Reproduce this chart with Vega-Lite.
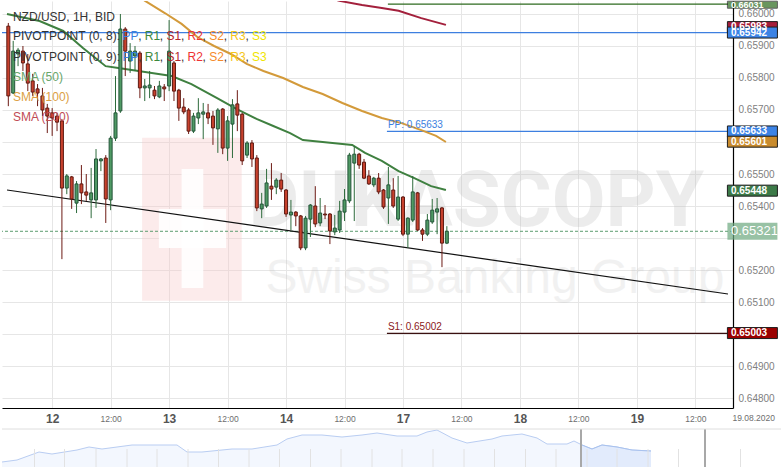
{
"$schema": "https://vega.github.io/schema/vega-lite/v6.json",
"padding": 0,
"background": "white",
"spacing": 4,
"config": {"font": "Liberation Sans", "view": {"stroke": null}, "axis": {"labelOverlap": false, "labelFlush": false}},
"datasets": {
"candles": [
{"t":-9,"o":0.65962,"h":0.65972,"l":0.65712,"c":0.65744},
{"t":-8,"o":0.65753,"h":0.65916,"l":0.6575,"c":0.65884},
{"t":-7,"o":0.65875,"h":0.65894,"l":0.65837,"c":0.65887},
{"t":-6,"o":0.65884,"h":0.659,"l":0.65822,"c":0.65847},
{"t":-5,"o":0.65844,"h":0.65875,"l":0.65759,"c":0.65784},
{"t":-4,"o":0.65791,"h":0.65813,"l":0.65744,"c":0.65756},
{"t":-3,"o":0.65766,"h":0.65781,"l":0.65712,"c":0.65753},
{"t":-2,"o":0.65744,"h":0.65769,"l":0.65681,"c":0.657},
{"t":-1,"o":0.65706,"h":0.65719,"l":0.65628,"c":0.65681},
{"t":0,"o":0.65691,"h":0.65706,"l":0.65619,"c":0.65675},
{"t":1,"o":0.65681,"h":0.65691,"l":0.65634,"c":0.65662},
{"t":2,"o":0.65666,"h":0.65672,"l":0.65234,"c":0.65456},
{"t":3,"o":0.65456,"h":0.655,"l":0.65437,"c":0.65494},
{"t":4,"o":0.65491,"h":0.65494,"l":0.65391,"c":0.65422},
{"t":5,"o":0.65409,"h":0.65478,"l":0.65378,"c":0.65469},
{"t":6,"o":0.65469,"h":0.65528,"l":0.65406,"c":0.65441},
{"t":7,"o":0.65444,"h":0.655,"l":0.65416,"c":0.65434},
{"t":8,"o":0.65419,"h":0.65519,"l":0.65362,"c":0.65441},
{"t":9,"o":0.65419,"h":0.65578,"l":0.65394,"c":0.65547},
{"t":10,"o":0.65541,"h":0.6555,"l":0.65509,"c":0.65547},
{"t":11,"o":0.6555,"h":0.65559,"l":0.65347,"c":0.65422},
{"t":12,"o":0.65419,"h":0.65619,"l":0.65387,"c":0.65612},
{"t":13,"o":0.65612,"h":0.65806,"l":0.65603,"c":0.65691},
{"t":14,"o":0.65697,"h":0.66,"l":0.65691,"c":0.65953},
{"t":15,"o":0.65953,"h":0.65959,"l":0.65806,"c":0.65884},
{"t":16,"o":0.65853,"h":0.65909,"l":0.65816,"c":0.65884},
{"t":17,"o":0.65869,"h":0.659,"l":0.65822,"c":0.65884},
{"t":18,"o":0.65878,"h":0.65884,"l":0.65737,"c":0.65769},
{"t":19,"o":0.65769,"h":0.65797,"l":0.65728,"c":0.65775},
{"t":20,"o":0.65769,"h":0.65822,"l":0.65737,"c":0.65778},
{"t":21,"o":0.65762,"h":0.65775,"l":0.65734,"c":0.65744},
{"t":22,"o":0.65741,"h":0.65791,"l":0.65737,"c":0.65775},
{"t":23,"o":0.65772,"h":0.65781,"l":0.65728,"c":0.65766},
{"t":24,"o":0.65775,"h":0.65981,"l":0.65759,"c":0.65884},
{"t":25,"o":0.65847,"h":0.65853,"l":0.65728,"c":0.65759},
{"t":26,"o":0.65762,"h":0.65766,"l":0.65666,"c":0.65706},
{"t":27,"o":0.65709,"h":0.65737,"l":0.65687,"c":0.65694},
{"t":28,"o":0.657,"h":0.65706,"l":0.65625,"c":0.65634},
{"t":29,"o":0.65634,"h":0.65691,"l":0.65628,"c":0.65681},
{"t":30,"o":0.65675,"h":0.65737,"l":0.65656,"c":0.65691},
{"t":31,"o":0.65687,"h":0.65722,"l":0.65609,"c":0.65694},
{"t":32,"o":0.65691,"h":0.65719,"l":0.65656,"c":0.65675},
{"t":33,"o":0.65681,"h":0.65697,"l":0.65591,"c":0.65644},
{"t":34,"o":0.65641,"h":0.65706,"l":0.65566,"c":0.657},
{"t":35,"o":0.65703,"h":0.65706,"l":0.65562,"c":0.65581},
{"t":36,"o":0.65581,"h":0.65681,"l":0.65541,"c":0.65666},
{"t":37,"o":0.65656,"h":0.65734,"l":0.6555,"c":0.65716},
{"t":38,"o":0.65719,"h":0.65762,"l":0.65634,"c":0.65684},
{"t":39,"o":0.65687,"h":0.65691,"l":0.65528,"c":0.65541},
{"t":40,"o":0.65559,"h":0.65603,"l":0.6555,"c":0.65597},
{"t":41,"o":0.65597,"h":0.65606,"l":0.65522,"c":0.65547},
{"t":42,"o":0.6555,"h":0.65559,"l":0.65384,"c":0.65394},
{"t":43,"o":0.65391,"h":0.65441,"l":0.65362,"c":0.65406},
{"t":44,"o":0.654,"h":0.65516,"l":0.65394,"c":0.65472},
{"t":45,"o":0.65462,"h":0.65534,"l":0.65419,"c":0.65453},
{"t":46,"o":0.65459,"h":0.65487,"l":0.65437,"c":0.65481},
{"t":47,"o":0.65481,"h":0.65503,"l":0.65444,"c":0.65453},
{"t":48,"o":0.6545,"h":0.65453,"l":0.65366,"c":0.65375},
{"t":49,"o":0.65372,"h":0.65419,"l":0.65325,"c":0.65381},
{"t":50,"o":0.65381,"h":0.65384,"l":0.65337,"c":0.65369},
{"t":51,"o":0.65369,"h":0.65372,"l":0.65262,"c":0.65269},
{"t":52,"o":0.65269,"h":0.65369,"l":0.65262,"c":0.65362},
{"t":53,"o":0.65359,"h":0.65406,"l":0.65303,"c":0.65403},
{"t":54,"o":0.654,"h":0.65462,"l":0.65334,"c":0.65344},
{"t":55,"o":0.65347,"h":0.65425,"l":0.65337,"c":0.65378},
{"t":56,"o":0.65375,"h":0.65403,"l":0.65359,"c":0.65372},
{"t":57,"o":0.65375,"h":0.65378,"l":0.65281,"c":0.65322},
{"t":58,"o":0.65319,"h":0.65372,"l":0.65309,"c":0.65331},
{"t":59,"o":0.65325,"h":0.65416,"l":0.65316,"c":0.65384},
{"t":60,"o":0.65381,"h":0.65453,"l":0.65353,"c":0.65419},
{"t":61,"o":0.65416,"h":0.65566,"l":0.65409,"c":0.65559},
{"t":62,"o":0.65534,"h":0.65587,"l":0.65353,"c":0.65562},
{"t":63,"o":0.65562,"h":0.65566,"l":0.65516,"c":0.65528},
{"t":64,"o":0.65537,"h":0.65547,"l":0.65484,"c":0.65487},
{"t":65,"o":0.65494,"h":0.65512,"l":0.65466,"c":0.65469},
{"t":66,"o":0.65466,"h":0.65491,"l":0.65459,"c":0.65487},
{"t":67,"o":0.65487,"h":0.65503,"l":0.65437,"c":0.65444},
{"t":68,"o":0.6545,"h":0.65453,"l":0.65391,"c":0.65397},
{"t":69,"o":0.65425,"h":0.65522,"l":0.65344,"c":0.65466},
{"t":70,"o":0.6545,"h":0.65487,"l":0.65394,"c":0.654},
{"t":71,"o":0.65359,"h":0.65494,"l":0.65353,"c":0.65428},
{"t":72,"o":0.65428,"h":0.65431,"l":0.65306,"c":0.65312},
{"t":73,"o":0.65312,"h":0.65365,"l":0.65269,"c":0.65362},
{"t":74,"o":0.65356,"h":0.65494,"l":0.6535,"c":0.65444},
{"t":75,"o":0.65441,"h":0.65444,"l":0.65322,"c":0.65325},
{"t":76,"o":0.65325,"h":0.65331,"l":0.65291,"c":0.65312},
{"t":77,"o":0.65312,"h":0.65375,"l":0.65306,"c":0.65356},
{"t":78,"o":0.6535,"h":0.65422,"l":0.65344,"c":0.65387},
{"t":79,"o":0.65381,"h":0.65425,"l":0.65312,"c":0.65391},
{"t":80,"o":0.65394,"h":0.65397,"l":0.65209,"c":0.65284},
{"t":81,"o":0.65284,"h":0.65337,"l":0.65281,"c":0.65321}
],
"sma": [
{"s":"SMA50","t":-9.27,"v":0.66},{"s":"SMA50","t":-2.59,"v":0.65978},{"s":"SMA50","t":2.27,"v":0.65947},{"s":"SMA50","t":6.32,"v":0.65894},{"s":"SMA50","t":10.97,"v":0.65837},{"s":"SMA50","t":13.6,"v":0.65831},{"s":"SMA50","t":19.07,"v":0.65819},{"s":"SMA50","t":24.53,"v":0.65806},{"s":"SMA50","t":28.58,"v":0.65781},{"s":"SMA50","t":33.85,"v":0.65737},{"s":"SMA50","t":37.89,"v":0.65703},{"s":"SMA50","t":41.94,"v":0.65672},{"s":"SMA50","t":45.38,"v":0.6565},{"s":"SMA50","t":48.83,"v":0.65628},{"s":"SMA50","t":51.46,"v":0.65606},{"s":"SMA50","t":55.51,"v":0.656},{"s":"SMA50","t":59.56,"v":0.65594},{"s":"SMA50","t":61.58,"v":0.65591},{"s":"SMA50","t":64.21,"v":0.65566},{"s":"SMA50","t":67.65,"v":0.65541},{"s":"SMA50","t":71.09,"v":0.65509},{"s":"SMA50","t":74.33,"v":0.65487},{"s":"SMA50","t":77.77,"v":0.65462},{"s":"SMA50","t":80.81,"v":0.6545},
{"s":"SMA100","t":16.64,"v":0.66066},{"s":"SMA100","t":19.07,"v":0.66041},{"s":"SMA100","t":23.12,"v":0.66003},{"s":"SMA100","t":26.56,"v":0.65969},{"s":"SMA100","t":29.8,"v":0.65928},{"s":"SMA100","t":33.24,"v":0.659},{"s":"SMA100","t":36.68,"v":0.65875},{"s":"SMA100","t":39.92,"v":0.65844},{"s":"SMA100","t":43.36,"v":0.65822},{"s":"SMA100","t":47.41,"v":0.658},{"s":"SMA100","t":51.46,"v":0.65772},{"s":"SMA100","t":55.51,"v":0.6575},{"s":"SMA100","t":59.56,"v":0.65722},{"s":"SMA100","t":63.6,"v":0.65697},{"s":"SMA100","t":67.65,"v":0.65675},{"s":"SMA100","t":71.7,"v":0.65659},{"s":"SMA100","t":75.75,"v":0.65637},{"s":"SMA100","t":78.79,"v":0.65619},{"s":"SMA100","t":80.81,"v":0.656},
{"s":"SMA200","t":56.52,"v":0.66053},{"s":"SMA200","t":58.95,"v":0.66041},{"s":"SMA200","t":63.6,"v":0.66028},{"s":"SMA200","t":67.65,"v":0.66019},{"s":"SMA200","t":71.09,"v":0.6601},{"s":"SMA200","t":75.75,"v":0.65987},{"s":"SMA200","t":80.81,"v":0.65966}
],
"legend": [
{"t":-8.06,"v":0.65992,"text":"NZD/USD, 1H, BID","k":"base"},
{"t":-8.06,"v":0.6593,"text":"PIVOTPOINT (0, 8):","k":"base"},
{"t":14.41,"v":0.6593,"text":"PP","k":"PP"},{"t":17.65,"v":0.6593,"text":",","k":"base"},
{"t":19.01,"v":0.6593,"text":"R1","k":"R1"},{"t":22.1,"v":0.6593,"text":",","k":"base"},
{"t":23.46,"v":0.6593,"text":"S1","k":"S1"},{"t":26.44,"v":0.6593,"text":",","k":"base"},
{"t":27.77,"v":0.6593,"text":"R2","k":"R2"},{"t":30.87,"v":0.6593,"text":",","k":"base"},
{"t":32.23,"v":0.6593,"text":"S2","k":"S2"},{"t":35.2,"v":0.6593,"text":",","k":"base"},
{"t":36.56,"v":0.6593,"text":"R3","k":"R3"},{"t":39.66,"v":0.6593,"text":",","k":"base"},
{"t":41.01,"v":0.6593,"text":"S3","k":"S3"},
{"t":-8.06,"v":0.65867,"text":"PIVOTPOINT (0, 9):","k":"base"},
{"t":14.41,"v":0.65867,"text":"PP","k":"PP"},{"t":17.65,"v":0.65867,"text":",","k":"base"},
{"t":19.01,"v":0.65867,"text":"R1","k":"R1"},{"t":22.1,"v":0.65867,"text":",","k":"base"},
{"t":23.46,"v":0.65867,"text":"S1","k":"S1"},{"t":26.44,"v":0.65867,"text":",","k":"base"},
{"t":27.77,"v":0.65867,"text":"R2","k":"R2"},{"t":30.87,"v":0.65867,"text":",","k":"base"},
{"t":32.23,"v":0.65867,"text":"S2","k":"S2"},{"t":35.2,"v":0.65867,"text":",","k":"base"},
{"t":36.56,"v":0.65867,"text":"R3","k":"R3"},{"t":39.66,"v":0.65867,"text":",","k":"base"},
{"t":41.01,"v":0.65867,"text":"S3","k":"S3"},
{"t":-8.06,"v":0.65804,"text":"SMA (50)","k":"SMA50"},
{"t":-8.06,"v":0.65741,"text":"SMA (100)","k":"SMA100"},
{"t":-8.06,"v":0.65679,"text":"SMA (200)","k":"SMA200"}
],
"levels": [
{"k":"R1","v":0.66031,"t":68.9,"t2":138.7},
{"k":"PP","v":0.65633,"t":68.7,"t2":138.7},
{"k":"S1","v":0.65002,"t":68.7,"t2":138.7}
],
"leveltext": [
{"k":"PP","v":0.65633,"t":68.9,"text":"PP: 0.65633"},
{"k":"S1","v":0.65002,"t":68.9,"text":"S1: 0.65002"},
{"k":"R1","v":0.66031,"t":68.9,"text":"R1: 0.66030"}
],
"boxes": [
{"k":"SMA200","v":0.65959,"text":"0.65983"},
{"k":"PP8","v":0.65942,"text":"0.65942"},
{"k":"PP9","v":0.65633,"text":"0.65633"},
{"k":"SMA100","v":0.65601,"text":"0.65601"},
{"k":"SMA50","v":0.65448,"text":"0.65448"},
{"k":"S1","v":0.65003,"text":"0.65003"}
],
"wmrect": [
{"k":"logo","t":18.46,"t2":38.9,"v":0.65613,"v2":0.65104},
{"k":"cross","t":26.56,"t2":31.01,"v":0.65516,"v2":0.65144},
{"k":"cross","t":21.9,"t2":35.7,"v":0.65391,"v2":0.65269}
],
"nav": [
{"nx":0,"p":0.5875},{"nx":1.5,"p":0.5925},{"nx":3.7,"p":0.6125},{"nx":5.0,"p":0.6075},{"nx":7.5,"p":0.6175},{"nx":8.7,"p":0.625},{"nx":10.0,"p":0.62},{"nx":13.0,"p":0.63},{"nx":15.0,"p":0.63},{"nx":17.5,"p":0.63},{"nx":18.5,"p":0.6125},{"nx":20.0,"p":0.6125},{"nx":23.0,"p":0.62},{"nx":25.0,"p":0.62},{"nx":27.5,"p":0.63},{"nx":28.5,"p":0.645},{"nx":30.0,"p":0.655},{"nx":32.0,"p":0.655},{"nx":34.0,"p":0.65},{"nx":36.0,"p":0.655},{"nx":37.5,"p":0.66},{"nx":39.5,"p":0.6525},{"nx":41.5,"p":0.6525},{"nx":42.5,"p":0.6625},{"nx":43.5,"p":0.6675},{"nx":45.0,"p":0.6475},{"nx":46.5,"p":0.635},{"nx":49.0,"p":0.645},{"nx":50.0,"p":0.6525},{"nx":52.0,"p":0.6575},{"nx":53.5,"p":0.6475},{"nx":54.5,"p":0.6325},{"nx":56.5,"p":0.6325},{"nx":57.2,"p":0.64},{"nx":58.0,"p":0.63},{"nx":59.0,"p":0.62},{"nx":60.0,"p":0.63},{"nx":61.5,"p":0.625},{"nx":63.0,"p":0.6175},{"nx":64.9,"p":0.615}
],
"navticks": [
{"nx":3.25},{"nx":6.25},{"nx":9.4},{"nx":12.5},{"nx":15.5},{"nx":18.6},{"nx":21.65},{"nx":24.7},{"nx":27.75},{"nx":30.85},{"nx":33.9},{"nx":37.0},{"nx":40.0},{"nx":43.1},{"nx":46.2},{"nx":49.25},{"nx":52.35},{"nx":55.4},{"nx":58.5},{"nx":61.5},{"nx":64.6},{"nx":67.65},{"nx":73.85}
]
},
"vconcat": [
{
"width": 731,
"height": 407,
"resolve": {"scale": {"color": "independent", "stroke": "independent"}},
"layer": [
{
"data": {"name": "wmrect"},
"transform": [{"filter": "datum.k === 'logo'"}],
"mark": {"type": "rect", "color": "#f5c6c6", "opacity": 0.35, "clip": true},
"encoding": {
"x": {"field": "t", "type": "quantitative", "scale": {"domain": [-9.27, 138.7], "nice": false, "zero": false},
"axis": {"orient": "bottom", "title": null, "values": [0,12,24,36,48,60,72,84,96,108,120,132],
"labelExpr": "datum.value % 24 === 0 ? ['12','13','14','17','18','19'][datum.value / 24] : '12:00'",
"labelFontSize": {"condition": {"test": "datum.value % 24 === 0", "value": 12}, "value": 8.5},
"labelFontWeight": {"condition": {"test": "datum.value % 24 === 0", "value": "bold"}, "value": "normal"},
"labelColor": {"condition": {"test": "datum.value % 24 === 0", "value": "#555555"}, "value": "#6e6e6e"},
"labelPadding": 10, "labelBaseline": "middle", "labelFlush": false, "labelOverlap": false,
"ticks": false, "tickSize": 0, "domainColor": "#000000", "domainWidth": 1.2, "grid": true, "gridColor": "#e6e6e6"}},
"x2": {"field": "t2"},
"y": {"field": "v", "type": "quantitative", "scale": {"domain": [0.647688, 0.660406], "nice": false, "zero": false},
"axis": {"orient": "right", "title": null, "values": [0.648,0.649,0.65,0.651,0.652,0.653,0.654,0.655,0.656,0.657,0.658,0.659,0.66], "labelExpr": "(abs(datum.value - 0.656) < 0.00001 || abs(datum.value - 0.653) < 0.00001 || abs(datum.value - 0.65) < 0.00001) ? '' : format(datum.value, '.5f')", "labelFontSize": 10, "labelColor": "#808080", "labelPadding": 5, "labelFlush": false, "labelOverlap": false, "ticks": false, "tickSize": 0, "domainColor": "#000000", "domainWidth": 1.2, "grid": true, "gridColor": "#e6e6e6"}},
"y2": {"field": "v2"}
}
},
{
"data": {"name": "wmrect"},
"transform": [{"filter": "datum.k === 'cross'"}],
"mark": {"type": "rect", "color": "#ffffff", "opacity": 0.9, "clip": true},
"encoding": {
"x": {"field": "t", "type": "quantitative", "scale": {"domain": [-9.27, 138.7], "nice": false, "zero": false}},
"x2": {"field": "t2"},
"y": {"field": "v", "type": "quantitative", "scale": {"domain": [0.647688, 0.660406], "nice": false, "zero": false},
"axis": {"orient": "right", "title": null, "values": [0.648,0.649,0.65,0.651,0.652,0.653,0.654,0.655,0.656,0.657,0.658,0.659,0.66], "labelExpr": "(abs(datum.value - 0.656) < 0.00001 || abs(datum.value - 0.653) < 0.00001 || abs(datum.value - 0.65) < 0.00001) ? '' : format(datum.value, '.5f')", "labelFontSize": 10, "labelColor": "#808080", "labelPadding": 5, "labelFlush": false, "labelOverlap": false, "ticks": false, "tickSize": 0, "domainColor": "#000000", "domainWidth": 1.2, "grid": true, "gridColor": "#e6e6e6"}},
"y2": {"field": "v2"}
}
},
{
"data": {"values": [{"t": 40.3, "v": 0.65337, "text": "DUKASCOPY"}]},
"mark": {"type": "text", "align": "left", "baseline": "alphabetic", "fontSize": 78, "fontWeight": "bold", "font": "Roboto", "color": "#bdbdbd", "opacity": 0.28, "clip": true},
"encoding": {
"x": {"field": "t", "type": "quantitative", "scale": {"domain": [-9.27, 138.7], "nice": false, "zero": false}},
"y": {"field": "v", "type": "quantitative", "scale": {"domain": [0.647688, 0.660406], "nice": false, "zero": false},
"axis": {"orient": "right", "title": null, "values": [0.648,0.649,0.65,0.651,0.652,0.653,0.654,0.655,0.656,0.657,0.658,0.659,0.66], "labelExpr": "(abs(datum.value - 0.656) < 0.00001 || abs(datum.value - 0.653) < 0.00001 || abs(datum.value - 0.65) < 0.00001) ? '' : format(datum.value, '.5f')", "labelFontSize": 10, "labelColor": "#808080", "labelPadding": 5, "labelFlush": false, "labelOverlap": false, "ticks": false, "tickSize": 0, "domainColor": "#000000", "domainWidth": 1.2, "grid": true, "gridColor": "#e6e6e6"}},
"text": {"field": "text"}
}
},
{
"data": {"values": [{"t": 43.77, "v": 0.65128, "text": "Swiss Banking Group"}]},
"mark": {"type": "text", "align": "left", "baseline": "alphabetic", "fontSize": 48, "font": "Liberation Sans", "color": "#bdbdbd", "opacity": 0.2, "clip": true},
"encoding": {
"x": {"field": "t", "type": "quantitative", "scale": {"domain": [-9.27, 138.7], "nice": false, "zero": false}},
"y": {"field": "v", "type": "quantitative", "scale": {"domain": [0.647688, 0.660406], "nice": false, "zero": false},
"axis": {"orient": "right", "title": null, "values": [0.648,0.649,0.65,0.651,0.652,0.653,0.654,0.655,0.656,0.657,0.658,0.659,0.66], "labelExpr": "(abs(datum.value - 0.656) < 0.00001 || abs(datum.value - 0.653) < 0.00001 || abs(datum.value - 0.65) < 0.00001) ? '' : format(datum.value, '.5f')", "labelFontSize": 10, "labelColor": "#808080", "labelPadding": 5, "labelFlush": false, "labelOverlap": false, "ticks": false, "tickSize": 0, "domainColor": "#000000", "domainWidth": 1.2, "grid": true, "gridColor": "#e6e6e6"}},
"text": {"field": "text"}
}
},
{
"data": {"values": [{"v": 0.65942}]},
"mark": {"type": "rule", "color": "#3d7fe0", "strokeWidth": 1.3, "clip": true},
"encoding": {
"y": {"field": "v", "type": "quantitative", "scale": {"domain": [0.647688, 0.660406], "nice": false, "zero": false},
"axis": {"orient": "right", "title": null, "values": [0.648,0.649,0.65,0.651,0.652,0.653,0.654,0.655,0.656,0.657,0.658,0.659,0.66], "labelExpr": "(abs(datum.value - 0.656) < 0.00001 || abs(datum.value - 0.653) < 0.00001 || abs(datum.value - 0.65) < 0.00001) ? '' : format(datum.value, '.5f')", "labelFontSize": 10, "labelColor": "#808080", "labelPadding": 5, "labelFlush": false, "labelOverlap": false, "ticks": false, "tickSize": 0, "domainColor": "#000000", "domainWidth": 1.2, "grid": true, "gridColor": "#e6e6e6"}}
}
},
{
"data": {"values": [{"v": 0.65321}]},
"mark": {"type": "rule", "color": "#5c9c70", "strokeWidth": 1, "strokeDash": [3, 2], "clip": true},
"encoding": {
"y": {"field": "v", "type": "quantitative", "scale": {"domain": [0.647688, 0.660406], "nice": false, "zero": false},
"axis": {"orient": "right", "title": null, "values": [0.648,0.649,0.65,0.651,0.652,0.653,0.654,0.655,0.656,0.657,0.658,0.659,0.66], "labelExpr": "(abs(datum.value - 0.656) < 0.00001 || abs(datum.value - 0.653) < 0.00001 || abs(datum.value - 0.65) < 0.00001) ? '' : format(datum.value, '.5f')", "labelFontSize": 10, "labelColor": "#808080", "labelPadding": 5, "labelFlush": false, "labelOverlap": false, "ticks": false, "tickSize": 0, "domainColor": "#000000", "domainWidth": 1.2, "grid": true, "gridColor": "#e6e6e6"}}
}
},
{
"data": {"name": "levels"},
"mark": {"type": "rule", "strokeWidth": 1.3, "clip": true},
"encoding": {
"x": {"field": "t", "type": "quantitative", "scale": {"domain": [-9.27, 138.7], "nice": false, "zero": false}},
"x2": {"field": "t2"},
"y": {"field": "v", "type": "quantitative", "scale": {"domain": [0.647688, 0.660406], "nice": false, "zero": false},
"axis": {"orient": "right", "title": null, "values": [0.648,0.649,0.65,0.651,0.652,0.653,0.654,0.655,0.656,0.657,0.658,0.659,0.66], "labelExpr": "(abs(datum.value - 0.656) < 0.00001 || abs(datum.value - 0.653) < 0.00001 || abs(datum.value - 0.65) < 0.00001) ? '' : format(datum.value, '.5f')", "labelFontSize": 10, "labelColor": "#808080", "labelPadding": 5, "labelFlush": false, "labelOverlap": false, "ticks": false, "tickSize": 0, "domainColor": "#000000", "domainWidth": 1.2, "grid": true, "gridColor": "#e6e6e6"}},
"color": {"field": "k", "type": "nominal", "scale": {"domain": ["R1", "PP", "S1"], "range": ["#2e6b1f", "#3d7fe0", "#3a1010"]}, "legend": null}
}
},
{
"data": {"values": [{"t": -9.27, "v": 0.6545, "t2": 138.7, "v2": 0.65125}]},
"mark": {"type": "rule", "color": "#111111", "strokeWidth": 1.2, "clip": true},
"encoding": {
"x": {"field": "t", "type": "quantitative", "scale": {"domain": [-9.27, 138.7], "nice": false, "zero": false}},
"x2": {"field": "t2"},
"y": {"field": "v", "type": "quantitative", "scale": {"domain": [0.647688, 0.660406], "nice": false, "zero": false},
"axis": {"orient": "right", "title": null, "values": [0.648,0.649,0.65,0.651,0.652,0.653,0.654,0.655,0.656,0.657,0.658,0.659,0.66], "labelExpr": "(abs(datum.value - 0.656) < 0.00001 || abs(datum.value - 0.653) < 0.00001 || abs(datum.value - 0.65) < 0.00001) ? '' : format(datum.value, '.5f')", "labelFontSize": 10, "labelColor": "#808080", "labelPadding": 5, "labelFlush": false, "labelOverlap": false, "ticks": false, "tickSize": 0, "domainColor": "#000000", "domainWidth": 1.2, "grid": true, "gridColor": "#e6e6e6"}},
"y2": {"field": "v2"}
}
},
{
"data": {"name": "sma"},
"mark": {"type": "line", "strokeWidth": 2, "clip": true},
"encoding": {
"x": {"field": "t", "type": "quantitative", "scale": {"domain": [-9.27, 138.7], "nice": false, "zero": false}},
"y": {"field": "v", "type": "quantitative", "scale": {"domain": [0.647688, 0.660406], "nice": false, "zero": false},
"axis": {"orient": "right", "title": null, "values": [0.648,0.649,0.65,0.651,0.652,0.653,0.654,0.655,0.656,0.657,0.658,0.659,0.66], "labelExpr": "(abs(datum.value - 0.656) < 0.00001 || abs(datum.value - 0.653) < 0.00001 || abs(datum.value - 0.65) < 0.00001) ? '' : format(datum.value, '.5f')", "labelFontSize": 10, "labelColor": "#808080", "labelPadding": 5, "labelFlush": false, "labelOverlap": false, "ticks": false, "tickSize": 0, "domainColor": "#000000", "domainWidth": 1.2, "grid": true, "gridColor": "#e6e6e6"}},
"color": {"field": "s", "type": "nominal", "scale": {"domain": ["SMA50", "SMA100", "SMA200"], "range": ["#3f8040", "#d39a3a", "#a3203c"]}, "legend": null}
}
},
{
"data": {"name": "candles"},
"mark": {"type": "rule", "strokeWidth": 1, "clip": true},
"encoding": {
"x": {"field": "t", "type": "quantitative", "scale": {"domain": [-9.27, 138.7], "nice": false, "zero": false}},
"y": {"field": "l", "type": "quantitative", "scale": {"domain": [0.647688, 0.660406], "nice": false, "zero": false},
"axis": {"orient": "right", "title": null, "values": [0.648,0.649,0.65,0.651,0.652,0.653,0.654,0.655,0.656,0.657,0.658,0.659,0.66], "labelExpr": "(abs(datum.value - 0.656) < 0.00001 || abs(datum.value - 0.653) < 0.00001 || abs(datum.value - 0.65) < 0.00001) ? '' : format(datum.value, '.5f')", "labelFontSize": 10, "labelColor": "#808080", "labelPadding": 5, "labelFlush": false, "labelOverlap": false, "ticks": false, "tickSize": 0, "domainColor": "#000000", "domainWidth": 1.2, "grid": true, "gridColor": "#e6e6e6"}},
"y2": {"field": "h"},
"color": {"condition": {"test": "datum.c >= datum.o", "value": "#2e6b3c"}, "value": "#6d1a14"}
}
},
{
"data": {"name": "candles"},
"mark": {"type": "bar", "size": 3, "strokeWidth": 1, "clip": true},
"encoding": {
"x": {"field": "t", "type": "quantitative", "scale": {"domain": [-9.27, 138.7], "nice": false, "zero": false}},
"y": {"field": "o", "type": "quantitative", "scale": {"domain": [0.647688, 0.660406], "nice": false, "zero": false},
"axis": {"orient": "right", "title": null, "values": [0.648,0.649,0.65,0.651,0.652,0.653,0.654,0.655,0.656,0.657,0.658,0.659,0.66], "labelExpr": "(abs(datum.value - 0.656) < 0.00001 || abs(datum.value - 0.653) < 0.00001 || abs(datum.value - 0.65) < 0.00001) ? '' : format(datum.value, '.5f')", "labelFontSize": 10, "labelColor": "#808080", "labelPadding": 5, "labelFlush": false, "labelOverlap": false, "ticks": false, "tickSize": 0, "domainColor": "#000000", "domainWidth": 1.2, "grid": true, "gridColor": "#e6e6e6"}},
"y2": {"field": "c"},
"color": {"condition": {"test": "datum.c >= datum.o", "value": "#4f9a64"}, "value": "#c8412d"},
"stroke": {"condition": {"test": "datum.c >= datum.o", "value": "#25553a"}, "value": "#5e1a12"}
}
},
{
"data": {"name": "legend"},
"mark": {"type": "text", "align": "left", "baseline": "middle", "fontSize": 12, "clip": true},
"encoding": {
"x": {"field": "t", "type": "quantitative", "scale": {"domain": [-9.27, 138.7], "nice": false, "zero": false}},
"y": {"field": "v", "type": "quantitative", "scale": {"domain": [0.647688, 0.660406], "nice": false, "zero": false},
"axis": {"orient": "right", "title": null, "values": [0.648,0.649,0.65,0.651,0.652,0.653,0.654,0.655,0.656,0.657,0.658,0.659,0.66], "labelExpr": "(abs(datum.value - 0.656) < 0.00001 || abs(datum.value - 0.653) < 0.00001 || abs(datum.value - 0.65) < 0.00001) ? '' : format(datum.value, '.5f')", "labelFontSize": 10, "labelColor": "#808080", "labelPadding": 5, "labelFlush": false, "labelOverlap": false, "ticks": false, "tickSize": 0, "domainColor": "#000000", "domainWidth": 1.2, "grid": true, "gridColor": "#e6e6e6"}},
"text": {"field": "text"},
"color": {"field": "k", "type": "nominal", "scale": {"domain": ["base", "PP", "R1", "S1", "R2", "S2", "R3", "S3", "SMA50", "SMA100", "SMA200"], "range": ["#333333", "#3a80e0", "#3b873b", "#b3262a", "#ee3333", "#f58a2a", "#f5c518", "#efe400", "#68a66b", "#dca044", "#bf4b55"]}, "legend": null}
}
},
{
"data": {"name": "leveltext"},
"mark": {"type": "text", "align": "left", "baseline": "alphabetic", "dy": -3, "fontSize": 10, "clip": true},
"encoding": {
"x": {"field": "t", "type": "quantitative", "scale": {"domain": [-9.27, 138.7], "nice": false, "zero": false}},
"y": {"field": "v", "type": "quantitative", "scale": {"domain": [0.647688, 0.660406], "nice": false, "zero": false},
"axis": {"orient": "right", "title": null, "values": [0.648,0.649,0.65,0.651,0.652,0.653,0.654,0.655,0.656,0.657,0.658,0.659,0.66], "labelExpr": "(abs(datum.value - 0.656) < 0.00001 || abs(datum.value - 0.653) < 0.00001 || abs(datum.value - 0.65) < 0.00001) ? '' : format(datum.value, '.5f')", "labelFontSize": 10, "labelColor": "#808080", "labelPadding": 5, "labelFlush": false, "labelOverlap": false, "ticks": false, "tickSize": 0, "domainColor": "#000000", "domainWidth": 1.2, "grid": true, "gridColor": "#e6e6e6"}},
"text": {"field": "text"},
"color": {"field": "k", "type": "nominal", "scale": {"domain": ["PP", "S1", "R1"], "range": ["#3d7fe0", "#8b1a1a", "#2a6a18"]}, "legend": null}
}
},
{
"data": {"name": "boxes"},
"mark": {"type": "tick", "orient": "horizontal", "size": 50, "thickness": 11, "stroke": "#1e1e1e", "strokeWidth": 1, "opacity": 1, "clip": false},
"encoding": {
"x": {"datum": 143.71, "type": "quantitative", "scale": {"domain": [-9.27, 138.7], "nice": false, "zero": false}},
"y": {"field": "v", "type": "quantitative", "scale": {"domain": [0.647688, 0.660406], "nice": false, "zero": false},
"axis": {"orient": "right", "title": null, "values": [0.648,0.649,0.65,0.651,0.652,0.653,0.654,0.655,0.656,0.657,0.658,0.659,0.66], "labelExpr": "(abs(datum.value - 0.656) < 0.00001 || abs(datum.value - 0.653) < 0.00001 || abs(datum.value - 0.65) < 0.00001) ? '' : format(datum.value, '.5f')", "labelFontSize": 10, "labelColor": "#808080", "labelPadding": 5, "labelFlush": false, "labelOverlap": false, "ticks": false, "tickSize": 0, "domainColor": "#000000", "domainWidth": 1.2, "grid": true, "gridColor": "#e6e6e6"}},
"color": {"field": "k", "type": "nominal", "scale": {"domain": ["SMA200", "PP8", "PP9", "SMA100", "SMA50", "S1"], "range": ["#a51d3b", "#3c83e5", "#3c83e5", "#c98b2d", "#3c7a48", "#9a0000"]}, "legend": null}
}
},
{
"data": {"name": "boxes"},
"mark": {"type": "text", "align": "left", "baseline": "middle", "fontSize": 10, "fontWeight": "bold", "color": "#ffffff", "clip": false},
"encoding": {
"x": {"datum": 139.31, "type": "quantitative", "scale": {"domain": [-9.27, 138.7], "nice": false, "zero": false}},
"y": {"field": "v", "type": "quantitative", "scale": {"domain": [0.647688, 0.660406], "nice": false, "zero": false},
"axis": {"orient": "right", "title": null, "values": [0.648,0.649,0.65,0.651,0.652,0.653,0.654,0.655,0.656,0.657,0.658,0.659,0.66], "labelExpr": "(abs(datum.value - 0.656) < 0.00001 || abs(datum.value - 0.653) < 0.00001 || abs(datum.value - 0.65) < 0.00001) ? '' : format(datum.value, '.5f')", "labelFontSize": 10, "labelColor": "#808080", "labelPadding": 5, "labelFlush": false, "labelOverlap": false, "ticks": false, "tickSize": 0, "domainColor": "#000000", "domainWidth": 1.2, "grid": true, "gridColor": "#e6e6e6"}},
"text": {"field": "text"}
}
},
{
"data": {"values": [{"v": 0.66029, "text": "0.66031"}]},
"mark": {"type": "tick", "orient": "horizontal", "size": 50, "thickness": 7, "color": "#2b6a1c", "stroke": "#1e1e1e", "strokeWidth": 1, "clip": false},
"encoding": {
"x": {"datum": 143.71, "type": "quantitative", "scale": {"domain": [-9.27, 138.7], "nice": false, "zero": false}},
"y": {"field": "v", "type": "quantitative", "scale": {"domain": [0.647688, 0.660406], "nice": false, "zero": false},
"axis": {"orient": "right", "title": null, "values": [0.648,0.649,0.65,0.651,0.652,0.653,0.654,0.655,0.656,0.657,0.658,0.659,0.66], "labelExpr": "(abs(datum.value - 0.656) < 0.00001 || abs(datum.value - 0.653) < 0.00001 || abs(datum.value - 0.65) < 0.00001) ? '' : format(datum.value, '.5f')", "labelFontSize": 10, "labelColor": "#808080", "labelPadding": 5, "labelFlush": false, "labelOverlap": false, "ticks": false, "tickSize": 0, "domainColor": "#000000", "domainWidth": 1.2, "grid": true, "gridColor": "#e6e6e6"}}
}
},
{
"data": {"values": [{"v": 0.66028, "text": "0.66031"}]},
"mark": {"type": "text", "align": "left", "baseline": "middle", "fontSize": 9, "fontWeight": "bold", "color": "#ffffff", "clip": false},
"encoding": {
"x": {"datum": 139.31, "type": "quantitative", "scale": {"domain": [-9.27, 138.7], "nice": false, "zero": false}},
"y": {"field": "v", "type": "quantitative", "scale": {"domain": [0.647688, 0.660406], "nice": false, "zero": false},
"axis": {"orient": "right", "title": null, "values": [0.648,0.649,0.65,0.651,0.652,0.653,0.654,0.655,0.656,0.657,0.658,0.659,0.66], "labelExpr": "(abs(datum.value - 0.656) < 0.00001 || abs(datum.value - 0.653) < 0.00001 || abs(datum.value - 0.65) < 0.00001) ? '' : format(datum.value, '.5f')", "labelFontSize": 10, "labelColor": "#808080", "labelPadding": 5, "labelFlush": false, "labelOverlap": false, "ticks": false, "tickSize": 0, "domainColor": "#000000", "domainWidth": 1.2, "grid": true, "gridColor": "#e6e6e6"}},
"text": {"field": "text"}
}
},
{
"data": {"values": [{"v": 0.65321, "text": "0.65321"}]},
"mark": {"type": "tick", "orient": "horizontal", "size": 50, "thickness": 17, "color": "#6ca87f", "clip": false},
"encoding": {
"x": {"datum": 143.71, "type": "quantitative", "scale": {"domain": [-9.27, 138.7], "nice": false, "zero": false}},
"y": {"field": "v", "type": "quantitative", "scale": {"domain": [0.647688, 0.660406], "nice": false, "zero": false},
"axis": {"orient": "right", "title": null, "values": [0.648,0.649,0.65,0.651,0.652,0.653,0.654,0.655,0.656,0.657,0.658,0.659,0.66], "labelExpr": "(abs(datum.value - 0.656) < 0.00001 || abs(datum.value - 0.653) < 0.00001 || abs(datum.value - 0.65) < 0.00001) ? '' : format(datum.value, '.5f')", "labelFontSize": 10, "labelColor": "#808080", "labelPadding": 5, "labelFlush": false, "labelOverlap": false, "ticks": false, "tickSize": 0, "domainColor": "#000000", "domainWidth": 1.2, "grid": true, "gridColor": "#e6e6e6"}}
}
},
{
"data": {"values": [{"v": 0.65321, "text": "0.65321"}]},
"mark": {"type": "text", "align": "left", "baseline": "middle", "fontSize": 13, "color": "#ffffff", "clip": false},
"encoding": {
"x": {"datum": 139.31, "type": "quantitative", "scale": {"domain": [-9.27, 138.7], "nice": false, "zero": false}},
"y": {"field": "v", "type": "quantitative", "scale": {"domain": [0.647688, 0.660406], "nice": false, "zero": false},
"axis": {"orient": "right", "title": null, "values": [0.648,0.649,0.65,0.651,0.652,0.653,0.654,0.655,0.656,0.657,0.658,0.659,0.66], "labelExpr": "(abs(datum.value - 0.656) < 0.00001 || abs(datum.value - 0.653) < 0.00001 || abs(datum.value - 0.65) < 0.00001) ? '' : format(datum.value, '.5f')", "labelFontSize": 10, "labelColor": "#808080", "labelPadding": 5, "labelFlush": false, "labelOverlap": false, "ticks": false, "tickSize": 0, "domainColor": "#000000", "domainWidth": 1.2, "grid": true, "gridColor": "#e6e6e6"}},
"text": {"field": "text"}
}
},
{
"data": {"values": [{"text": "19.08.2020"}]},
"mark": {"type": "text", "align": "center", "baseline": "middle", "fontSize": 8.5, "color": "#6e6e6e", "clip": false},
"encoding": {
"x": {"datum": 143.97, "type": "quantitative", "scale": {"domain": [-9.27, 138.7], "nice": false, "zero": false}},
"y": {"datum": 0.64738, "type": "quantitative", "scale": {"domain": [0.647688, 0.660406], "nice": false, "zero": false},
"axis": {"orient": "right", "title": null, "values": [0.648,0.649,0.65,0.651,0.652,0.653,0.654,0.655,0.656,0.657,0.658,0.659,0.66], "labelExpr": "(abs(datum.value - 0.656) < 0.00001 || abs(datum.value - 0.653) < 0.00001 || abs(datum.value - 0.65) < 0.00001) ? '' : format(datum.value, '.5f')", "labelFontSize": 10, "labelColor": "#808080", "labelPadding": 5, "labelFlush": false, "labelOverlap": false, "ticks": false, "tickSize": 0, "domainColor": "#000000", "domainWidth": 1.2, "grid": true, "gridColor": "#e6e6e6"}},
"text": {"field": "text"}
}
}
]
},
{
"width": 781,
"height": 40,
"layer": [
{
"data": {"name": "nav"},
"mark": {"type": "area", "color": "#eef4fd", "line": {"color": "#b9cdf2", "strokeWidth": 1}},
"encoding": {
"x": {"field": "nx", "type": "quantitative", "scale": {"domain": [0, 78.1], "nice": false, "zero": false}, "axis": null},
"y": {"field": "p", "type": "quantitative", "scale": {"domain": [0.57, 0.67], "nice": false, "zero": false}, "axis": null}
}
},
{
"data": {"name": "nav"},
"transform": [{"filter": "datum.nx >= 57.9"}],
"mark": {"type": "area", "color": "#dae6fb", "line": {"color": "#a9c2ee", "strokeWidth": 1}},
"encoding": {
"x": {"field": "nx", "type": "quantitative", "scale": {"domain": [0, 78.1], "nice": false, "zero": false}, "axis": null},
"y": {"field": "p", "type": "quantitative", "scale": {"domain": [0.57, 0.67], "nice": false, "zero": false}, "axis": null}
}
},
{
"data": {"name": "navticks"},
"mark": {"type": "rule", "color": "#e2e2e2", "strokeWidth": 1},
"encoding": {
"x": {"field": "nx", "type": "quantitative", "scale": {"domain": [0, 78.1], "nice": false, "zero": false}, "axis": null},
"y": {"datum": 0.57, "type": "quantitative", "scale": {"domain": [0.57, 0.67], "nice": false, "zero": false}, "axis": null},
"y2": {"datum": 0.62}
}
},
{
"data": {"values": [{"nx": 57.9}, {"nx": 70.3}]},
"mark": {"type": "rule", "color": "#a8a8a8", "strokeWidth": 2},
"encoding": {
"x": {"field": "nx", "type": "quantitative", "scale": {"domain": [0, 78.1], "nice": false, "zero": false}, "axis": null}
}
},
{
"data": {"values": [{"p": 0.67}]},
"mark": {"type": "rule", "color": "#dedede", "strokeWidth": 1},
"encoding": {
"y": {"field": "p", "type": "quantitative", "scale": {"domain": [0.57, 0.67], "nice": false, "zero": false}, "axis": null}
}
}
]
}
]
}
